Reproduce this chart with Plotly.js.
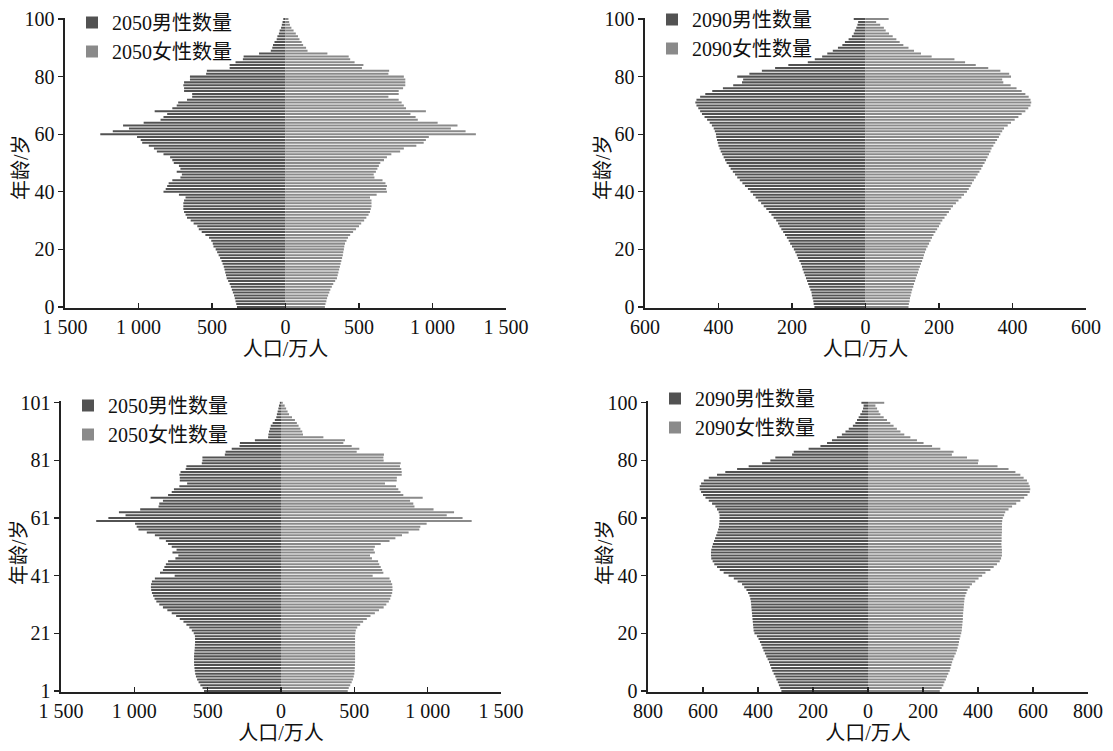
<!DOCTYPE html>
<html>
<head>
<meta charset="utf-8">
<script src="https://cdn.plot.ly/plotly-3.0.1.min.js"></script>
<style>
html,body{margin:0;padding:0;background:#fff;}
#chart{width:1113px;height:751px;}
</style>
</head>
<body>
<div id="chart"></div>
<script>
// ---- Data (万人), ages 0..100 (panel 3 axis positions 1..101) ----
const ages = []; for (let a = 0; a <= 100; a++) ages.push(a);
const ages3 = ages.map(a => a + 1);

const male2050A = [330,335,340,345,350,358,365,372,380,390,400,405,410,415,420,428,435,445,455,465,
 475,490,495,505,520,545,570,590,600,625,645,670,680,690,695,695,695,690,680,725,
 830,815,805,795,770,715,705,740,715,725,760,770,785,830,875,895,930,975,985,1010,
 1260,1175,1065,1105,965,850,830,805,890,770,740,730,670,635,635,690,690,695,690,650,
 650,540,535,380,380,340,290,285,180,100,90,85,75,60,55,45,40,30,25,20,15];
const female2050A = [268,272,278,283,290,298,305,315,325,338,350,355,360,365,370,375,380,385,390,393,
 397,400,405,415,425,440,460,480,500,515,535,550,565,575,580,585,585,585,575,620,
 690,685,690,680,660,605,600,615,625,635,645,670,690,720,780,805,890,940,955,975,
 1295,1225,1125,1170,1035,900,885,850,955,820,805,790,770,700,770,770,800,815,815,815,
 805,700,705,520,530,470,440,430,285,150,140,120,110,95,85,70,55,40,30,25,20];

const male2090A = [139,141,142,144,146,147,150,153,156,159,162,165,168,171,173,176,180,184,187,191,
 195,200,205,209,214,219,224,229,234,238,243,250,256,263,270,277,284,292,299,306,
 313,320,328,335,342,349,355,361,367,372,378,382,386,390,394,397,400,402,404,406,
 407,410,413,418,424,431,438,445,450,455,460,463,460,450,436,417,388,360,336,333,
 349,316,282,246,210,157,138,118,104,89,75,63,56,46,37,32,29,25,22,20,32];
const female2090A = [117,118,120,121,123,125,127,130,132,135,137,140,143,145,148,151,154,157,159,162,
 165,169,173,177,181,185,190,195,200,204,209,215,221,227,232,238,246,253,261,268,
 276,281,286,290,295,300,305,310,315,319,324,328,332,336,340,343,348,353,358,363,
 367,372,377,387,396,406,416,425,435,443,449,451,449,444,435,425,411,395,375,372,
 396,391,367,334,300,271,242,180,151,132,117,103,93,84,74,64,55,50,40,29,63];

const male2050B = [525,535,550,562,572,580,585,588,590,592,593,593,593,592,590,588,587,586,586,587,
 595,608,625,645,665,690,715,745,775,805,830,850,862,872,880,885,887,886,880,860,
 725,825,805,795,785,770,720,700,740,712,745,770,785,830,860,915,972,984,995,1260,
 1177,1060,1105,960,835,830,805,889,770,745,730,693,640,690,690,693,685,650,645,540,
 536,536,383,378,336,283,280,178,88,86,82,76,70,57,42,32,28,23,18,14,8];
const female2050B = [455,462,472,482,490,496,500,502,503,504,505,505,505,505,505,505,505,505,505,505,
 507,510,520,540,560,585,610,640,668,700,718,735,745,752,758,760,760,758,750,740,
 625,698,690,680,670,662,620,607,640,632,640,680,740,780,825,870,943,950,993,1300,
 1238,1130,1180,1040,910,902,880,966,834,815,800,784,709,789,790,823,823,820,811,816,
 700,698,702,516,534,482,425,436,289,150,145,132,120,108,95,75,55,45,35,25,12];

const male2090B = [315,319,324,328,333,337,343,348,352,356,360,365,370,375,380,384,388,393,398,404,
 413,416,417,418,419,420,421,422,423,424,425,426,428,431,436,442,450,458,474,488,
 507,525,539,549,559,565,570,571,571,570,567,564,560,556,552,548,545,542,541,540,
 540,540,543,549,555,567,579,591,600,607,612,612,607,597,579,549,519,476,434,385,
 355,337,276,270,216,173,149,131,113,95,82,70,55,46,40,34,28,22,18,16,24];
const female2090B = [261,268,274,278,283,287,292,297,300,303,306,310,314,319,323,326,329,331,333,336,
 339,341,342,343,344,345,345,346,347,348,349,350,351,354,358,362,370,378,390,402,
 415,427,445,457,469,479,484,487,487,487,486,485,486,486,486,487,487,487,487,488,
 490,495,499,511,524,539,554,568,580,588,590,588,584,578,566,554,536,511,471,400,
 402,360,305,311,263,233,202,178,154,132,118,105,93,81,69,57,45,39,33,27,59];

// ---- Tick labels ----
const xVals1500 = [-1500,-1000,-500,0,500,1000,1500];
const xText1500 = ['1 500','1 000','500','0','500','1 000','1 500'];
const xVals600 = [-600,-400,-200,0,200,400,600];
const xText600 = ['600','400','200','0','200','400','600'];
const xVals800 = [-800,-600,-400,-200,0,200,400,600,800];
const xText800 = ['800','600','400','200','0','200','400','600','800'];
const yVals100 = [0,20,40,60,80,100];
const yVals101 = [1,21,41,61,81,101];

const xTitle = '人口/万人';
const yTitle = '年龄/岁';

// ---- Styles ----
const FONT = "'Liberation Serif', 'Noto Sans CJK SC', serif";
const maleColor = '#525252';
const femaleColor = '#8a8a8a';
const W = 1113, H = 751;

function neg(arr){ return arr.map(v => -v); }

function barTrace(y, x, name, color, xa, ya, lg){
  return {type:'bar', orientation:'h', y:y, x:x, name:name,
    marker:{color:color, line:{width:0}}, xaxis:xa, yaxis:ya, legend:lg,
    hoverinfo:'skip'};
}

const data = [
  barTrace(ages, neg(male2050A), '2050男性数量', maleColor, 'x', 'y', 'legend'),
  barTrace(ages, female2050A, '2050女性数量', femaleColor, 'x', 'y', 'legend'),
  barTrace(ages, neg(male2090A), '2090男性数量', maleColor, 'x2', 'y2', 'legend2'),
  barTrace(ages, female2090A, '2090女性数量', femaleColor, 'x2', 'y2', 'legend2'),
  barTrace(ages3, neg(male2050B), '2050男性数量', maleColor, 'x3', 'y3', 'legend3'),
  barTrace(ages3, female2050B, '2050女性数量', femaleColor, 'x3', 'y3', 'legend3'),
  barTrace(ages, neg(male2090B), '2090男性数量', maleColor, 'x4', 'y4', 'legend4'),
  barTrace(ages, female2090B, '2090女性数量', femaleColor, 'x4', 'y4', 'legend4')
];

function xAxis(x0, x1, range, vals, text, anchor){
  return {domain:[x0/W, x1/W], range:range, anchor:anchor,
    tickmode:'array', tickvals:vals, ticktext:text,
    ticks:'inside', ticklen:5, tickwidth:1.3, tickcolor:'#222',
    showline:true, linecolor:'#222', linewidth:1.6,
    showgrid:false, zeroline:false, fixedrange:true,
    tickfont:{family:FONT, size:20, color:'#111'},
    title:{text:xTitle, font:{family:FONT, size:20, color:'#111'}, standoff:0}};
}
function yAxis(top, bottom, range, vals, anchor){
  return {domain:[1-bottom/H, 1-top/H], range:range, anchor:anchor,
    tickmode:'array', tickvals:vals,
    ticks:'outside', ticklen:5, tickwidth:1.3, tickcolor:'#222',
    showline:true, linecolor:'#222', linewidth:1.6,
    showgrid:false, zeroline:false, fixedrange:true,
    tickfont:{family:FONT, size:20, color:'#111'},
    title:{text:''}};
}
function legendAt(left, top){
  return {x:left/W, y:1-top/H, xanchor:'left', yanchor:'top',
    bgcolor:'rgba(0,0,0,0)', borderwidth:0, traceorder:'normal',
    font:{family:FONT, size:20, color:'#111'}, itemwidth:30, tracegroupgap:0};
}
function yTitleAnn(xpx, ypx){
  return {text:yTitle, xref:'paper', yref:'paper', x:xpx/W, y:1-ypx/H,
    xanchor:'center', yanchor:'middle', textangle:-90, showarrow:false,
    font:{family:FONT, size:20, color:'#111'}};
}

const layout = {
  width:W, height:H,
  margin:{l:0, r:0, t:0, b:0, autoexpand:false},
  paper_bgcolor:'#fff', plot_bgcolor:'#fff',
  barmode:'overlay', bargap:0.3,
  showlegend:true,
  xaxis:  xAxis(65, 506, [-1500,1500], xVals1500, xText1500, 'y'),
  yaxis:  yAxis(17.6, 308.4, [-0.5,100.5], yVals100, 'x'),
  xaxis2: xAxis(645, 1086, [-600,600], xVals600, xText600, 'y2'),
  yaxis2: yAxis(17.6, 308.4, [-0.5,100.5], yVals100, 'x2'),
  xaxis3: xAxis(61, 501, [-1500,1500], xVals1500, xText1500, 'y3'),
  yaxis3: yAxis(401.3, 692.4, [0.5,101.5], yVals101, 'x3'),
  xaxis4: xAxis(648, 1088, [-800,800], xVals800, xText800, 'y4'),
  yaxis4: yAxis(401.3, 692.4, [-0.5,100.5], yVals100, 'x4'),
  legend:  legendAt(72, 3),
  legend2: legendAt(652, 0),
  legend3: legendAt(68, 386),
  legend4: legendAt(655, 379),
  annotations: [
    yTitleAnn(21, 167),
    yTitleAnn(603, 167),
    yTitleAnn(19, 552),
    yTitleAnn(605, 552)
  ]
};

Plotly.newPlot('chart', data, layout, {staticPlot:true, displayModeBar:false});
</script>
</body>
</html>
